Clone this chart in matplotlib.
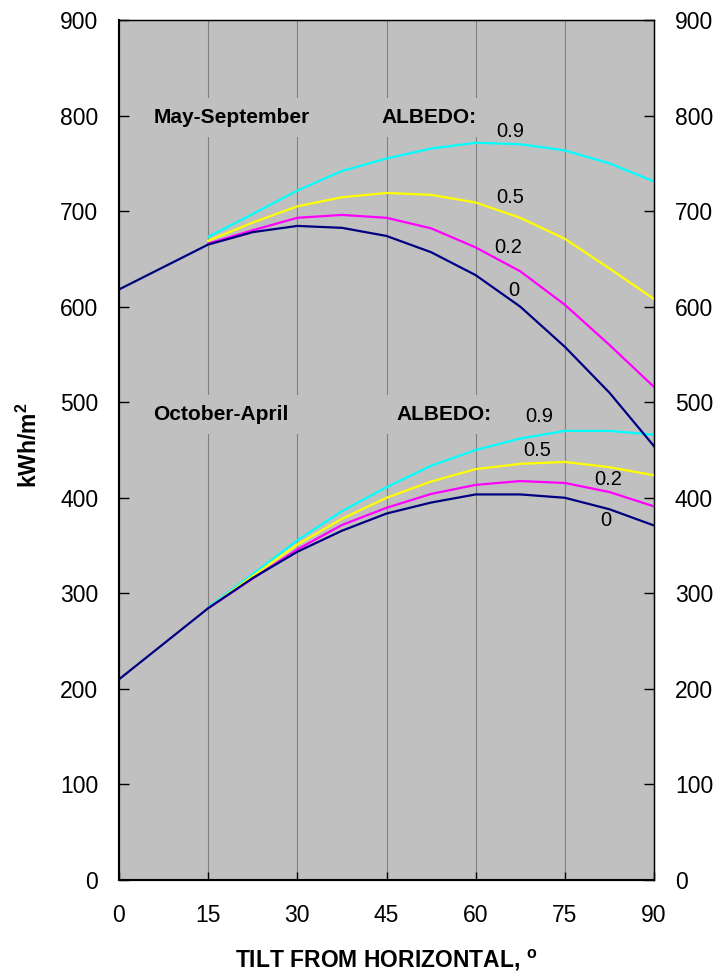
import matplotlib
matplotlib.use("Agg")
import matplotlib.pyplot as plt

plt.rcParams['font.family'] = ['Liberation Sans', 'DejaVu Sans']
plt.rcParams['mathtext.fontset'] = 'custom'
plt.rcParams['mathtext.rm'] = 'Liberation Sans'
plt.rcParams['mathtext.bf'] = 'Liberation Sans:bold'

# ---- data ----
tilt = [15, 22.5, 30, 37.5, 45, 52.5, 60, 67.5, 75, 82.5, 90]
tilt0 = [0] + tilt
albedo_labels = ["0", "0.2", "0.5", "0.9"]

# May-September, kWh/m2
ms_a0 = [618, 665, 678, 684.5, 682.5, 674, 657, 633, 600, 558, 510, 454]
ms_a02 = [666, 680, 693, 696, 693, 682, 662, 637, 602, 560, 516]
ms_a05 = [669, 688, 705, 714.5, 719, 717, 709, 693, 671, 640, 608]
ms_a09 = [673, 697, 721.5, 742, 755, 765.5, 771.5, 770, 763.5, 750, 731]

# October-April, kWh/m2
oa_a0 = [210, 284.4, 316, 343.5, 365.5, 383.5, 395, 403.5, 403.5, 400, 388, 371]
oa_a02 = [284.4, 315.5, 346, 371.5, 389.5, 404, 413.5, 417.5, 415.5, 406, 391]
oa_a05 = [284.4, 318, 351, 378, 400, 417, 430, 435.5, 437.5, 432, 423.5]
oa_a09 = [285.5, 320, 355.5, 386, 411, 433.5, 450, 462, 470, 470, 466]

x_ticks = [0, 15, 30, 45, 60, 75, 90]
y_ticks = [0, 100, 200, 300, 400, 500, 600, 700, 800, 900]

c_navy, c_mag, c_yel, c_cyan = '#000080', '#FF00FF', '#FFFF00', '#00FFFF'
bg = '#C0C0C0'

fig = plt.figure(figsize=(7.17, 9.77), dpi=100)
ax = fig.add_axes([119/717, 1-880/977, 535/717, 860/977])
ax.set_facecolor(bg)
ax.set_xlim(0, 90)
ax.set_ylim(0, 900)

for xv in x_ticks[1:-1]:
    ax.axvline(xv, color='#808080', lw=0.8, zorder=1)

lw = 1.6
ax.plot(tilt0, ms_a0, color=c_navy, lw=lw, zorder=5)
ax.plot(tilt, ms_a02, color=c_mag, lw=lw, zorder=4)
ax.plot(tilt, ms_a05, color=c_yel, lw=lw, zorder=3)
ax.plot(tilt, ms_a09, color=c_cyan, lw=lw, zorder=2)
ax.plot(tilt0, oa_a0, color=c_navy, lw=lw, zorder=5)
ax.plot(tilt, oa_a02, color=c_mag, lw=lw, zorder=4)
ax.plot(tilt, oa_a05, color=c_yel, lw=lw, zorder=3)
ax.plot(tilt, oa_a09, color=c_cyan, lw=lw, zorder=2)

box = dict(facecolor=bg, edgecolor='none', pad=7)
tkw = dict(fontsize=15, fontweight='bold', va='center', ha='left', bbox=box, zorder=6)
ax.text(5.8, 798, 'May-September', **tkw)
ax.text(44.1, 798, 'ALBEDO:', **tkw)
ax.text(5.8, 487, 'October-April', **tkw)
ax.text(46.7, 487, 'ALBEDO:', **tkw)

num_kw = dict(fontsize=14.5, va='center', ha='left', zorder=6)
ax.text(63.5, 783, albedo_labels[3], **num_kw)
ax.text(63.5, 714, albedo_labels[2], **num_kw)
ax.text(63.2, 662, albedo_labels[1], **num_kw)
ax.text(65.4, 617, albedo_labels[0], **num_kw)
ax.text(68.3, 485, albedo_labels[3], **num_kw)
ax.text(68.0, 449, albedo_labels[2], **num_kw)
ax.text(80.0, 419, albedo_labels[1], **num_kw)
ax.text(81.0, 376, albedo_labels[0], **num_kw)

ax.set_xticks(x_ticks)
ax.set_yticks(y_ticks)
ax.tick_params(axis='x', direction='in', length=6, width=1, pad=17, labelsize=16.5, top=False)
ax.tick_params(axis='y', direction='in', length=7, width=1, pad=15, labelsize=16.5)
for s in ax.spines.values():
    s.set_color('black')
    s.set_linewidth(1.0)
ax.spines['left'].set_linewidth(1.5)
ax.spines['bottom'].set_linewidth(1.5)

ax2 = ax.twinx()
ax2.set_ylim(0, 900)
ax2.set_yticks(y_ticks)
ax2.tick_params(axis='y', direction='in', length=7, width=1, pad=15, labelsize=16.5)

ax.set_xlabel(r'TILT FROM HORIZONTAL, $^{\mathbf{o}}$', fontsize=16.5, fontweight='bold', va='top')
ax.xaxis.set_label_coords(0.5, -0.079)
ax.set_ylabel(r'kWh/m$^{\mathbf{2}}$', fontsize=16.5, fontweight='bold')
ax.yaxis.set_label_coords(-0.145, 0.506)

fig.savefig('out.png', dpi=100)
